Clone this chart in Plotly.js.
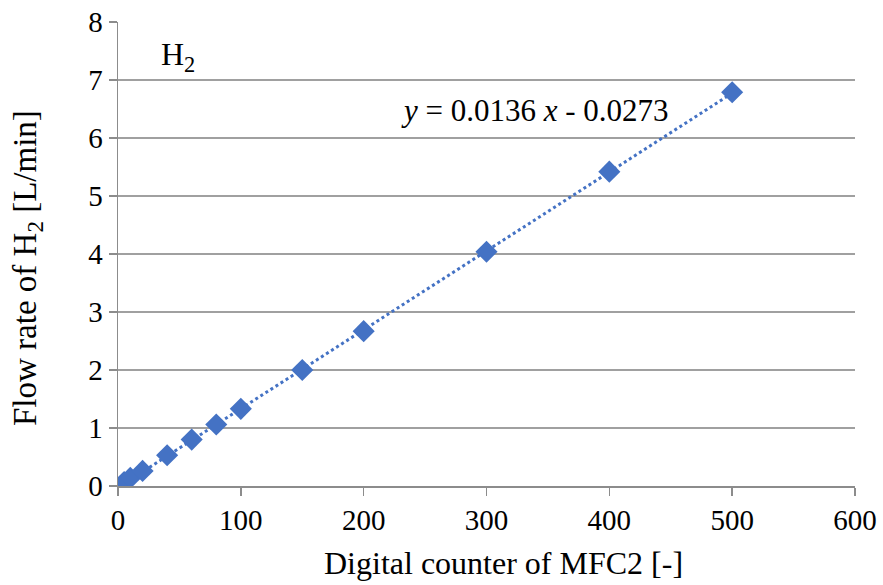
<!DOCTYPE html>
<html>
<head>
<meta charset="utf-8">
<script src="https://cdn.plot.ly/plotly-3.0.1.min.js"></script>
<style>html,body{margin:0;padding:0;background:#fff;}#chart{width:883px;height:585px;}</style>
</head>
<body>
<div id="chart"></div>
<script>
// Data
const counter = [5, 10, 20, 40, 60, 80, 100, 150, 200, 300, 400, 500];
const flowH2 = [0.07, 0.14, 0.26, 0.53, 0.80, 1.06, 1.33, 2.00, 2.67, 4.04, 5.42, 6.79];
const fitSlope = 0.0136;
const fitIntercept = -0.0273;
const xTicks = [0, 100, 200, 300, 400, 500, 600];
const yTicks = [0, 1, 2, 3, 4, 5, 6, 7, 8];
const xTitle = 'Digital counter of MFC2 [-]';
const yTitle = 'Flow rate of H<sub>2</sub> [L/min]';

const blue = '#4472C4';
const font = '"Liberation Serif", serif';

const xMin = Math.min(...counter), xMax = Math.max(...counter);
const trendX = [xMin, xMax];
const trendY = trendX.map(v => fitSlope * v + fitIntercept);

const traces = [
  {x: trendX, y: trendY, mode: 'lines', type: 'scatter',
   line: {color: blue, width: 3, dash: 'dot'}, hoverinfo: 'skip', showlegend: false},
  {x: counter, y: flowH2, mode: 'markers', type: 'scatter',
   marker: {symbol: 'diamond', size: 17, color: blue}, showlegend: false}
];

const layout = {
  width: 883, height: 585,
  margin: {l: 118, r: 28, t: 22, b: 99},
  paper_bgcolor: '#fff', plot_bgcolor: '#fff',
  font: {family: font, size: 29, color: '#000'},
  showlegend: false,
  xaxis: {
    range: [0, 600], tickvals: xTicks, ticktext: xTicks.map(String),
    showgrid: false, zeroline: false,
    showline: true, linecolor: '#8c8c8c', linewidth: 1.5,
    ticks: 'outside', ticklen: 8, tickcolor: '#8c8c8c', tickwidth: 1.5,
    tickfont: {family: font, size: 29, color: '#000'}
  },
  yaxis: {
    range: [0, 8], tickvals: yTicks, ticktext: yTicks.map(String),
    showgrid: true, gridcolor: '#a0a0a0', gridwidth: 1.5, zeroline: false,
    showline: true, linecolor: '#8c8c8c', linewidth: 1.5,
    ticks: 'outside', ticklen: 8, tickcolor: '#8c8c8c', tickwidth: 1.5,
    tickfont: {family: font, size: 29, color: '#000'}
  },
  annotations: [
    {xref: 'paper', yref: 'paper', x: 0.5224, y: -0.166, xanchor: 'center', yanchor: 'middle', showarrow: false,
     text: xTitle, font: {family: font, size: 32, color: '#000'}},
    {xref: 'paper', yref: 'paper', x: -0.122, y: 0.47, xanchor: 'center', yanchor: 'middle', showarrow: false,
     textangle: -90, text: yTitle, font: {family: font, size: 33, color: '#000'}},
    {xref: 'x', yref: 'y', x: 229, y: 6.48, xanchor: 'left', yanchor: 'middle', showarrow: false,
     text: '<i>y</i> = 0.0136 <i>x</i> - 0.0273', font: {family: font, size: 31, color: '#000'}},
    {xref: 'x', yref: 'y', x: 33, y: 7.4, xanchor: 'left', yanchor: 'middle', showarrow: false,
     text: 'H<sub>2</sub>', font: {family: font, size: 32, color: '#000'}}
  ]
};

Plotly.newPlot('chart', traces, layout, {displayModeBar: false, staticPlot: true});
</script>
</body>
</html>
